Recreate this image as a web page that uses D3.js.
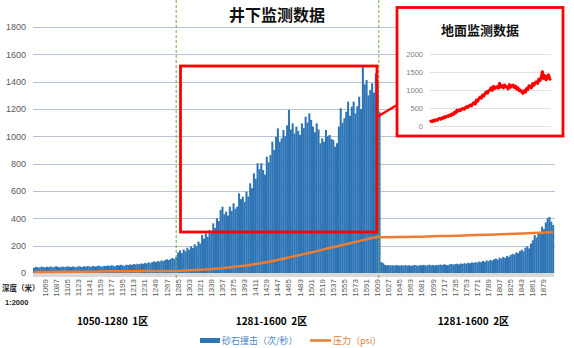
<!DOCTYPE html>
<html>
<head>
<meta charset="utf-8">
<script src="https://cdn.jsdelivr.net/npm/d3@7"></script>
<style>
  body { margin: 0; background: #fff; }
</style>
</head>
<body>
<div id="chart"></div>
<script>
// 井下 / 地面 monitoring data
const width = 574, height = 348;

const depthStart = 1051, depthStep = 3;

// sand impact count per depth sample (次/秒)
const impacts = [
  38,45,42,40,47,44,41,46,43,48,42,45,50,44,41,47,45,43,49,46,
  44,48,45,42,50,47,44,49,46,51,48,45,52,47,50,54,49,46,53,51,
  55,50,57,53,49,58,55,60,56,52,61,58,63,59,66,62,68,64,70,67,
  74,70,78,72,80,85,79,88,83,92,87,95,100,94,104,110,102,118,
  150,165,145,172,160,185,170,195,182,210,195,230,215,278,250,290,265,315,290,363,
  330,400,380,461,485,430,449,420,485,455,510,470,485,583,540,558,520,595,560,656,
  620,729,690,803,760,803,754,720,851,810,863,961,900,997,1058,960,985,1046,1000,1080,
  1193,1050,1095,1020,1071,1040,1010,1095,1060,1144,1100,1168,1120,1071,1030,1095,1050,949,985,960,
  1046,1000,1010,980,973,924,950,1071,1205,1100,1132,1180,1254,1150,1217,1254,1168,1220,1290,1200,
  1510,1380,1412,1300,1339,1388,1320,1461,1400,1180,
  80,72,
  60,56,58,55,57,54,58,56,53,57,
  55,58,54,57,52,56,59,55,53,58,56,60,55,57,61,56,59,54,60,58,
  62,58,64,60,57,63,66,61,65,68,63,70,66,72,68,75,71,78,73,80,
  76,84,79,88,82,92,86,96,90,100,
  105,98,112,106,118,110,125,118,132,140,
  135,150,145,160,170,158,185,195,180,215,
  240,278,260,300,290,339,320,370,400,410,376,351
];
const depths = impacts.map((d, i) => depthStart + i * depthStep);

// pressure (psi)
const pressureDepths = [1051,1081,1111,1141,1171,1201,1231,1261,1291,1321,1351,1381,1411,1441,1471,
  1501,1531,1561,1591,1612,1615,1621,1651,1681,1711,1741,1771,1801,1831,1861,1894];
const pressure = [8,8,9,10,12,12,14,15,17,23,33,47,66,90,120,
  150,183,214,246,266,262,262,264,266,270,273,278,282,287,293,298];

const tickDepths = [1069,1087,1105,1123,1141,1159,1177,1195,1213,1231,1249,1267,1285,1303,1321,1339,
  1357,1375,1393,1411,1429,1447,1465,1483,1501,1519,1537,1555,1573,1591,1609,1627,1645,1663,1681,
  1699,1717,1735,1753,1771,1789,1807,1825,1843,1861,1879];
const yTicks = [0,200,400,600,800,1000,1200,1400,1600,1800];

const zoneBreaks = [1282, 1611];
const zoneLabels = ["1050-1280  1区", "1281-1600  2区", "1281-1600  2区"];

// 地面 inset
const surface = [
  110,140,120,165,140,175,160,200,213,190,
  230,215,260,240,280,265,305,290,340,320,
  380,360,444,410,450,430,470,491,465,510,
  540,515,560,583,560,620,650,610,722,690,
  760,800,770,861,830,900,950,910,980,1000,
  1060,990,1100,1040,1080,1092,1050,1185,1080,1120,
  1060,1140,1090,1092,1030,1150,1080,1120,1139,1070,
  1110,1020,1060,980,1000,950,907,980,940,1040,
  1010,1120,1092,1060,1180,1130,1200,1230,1180,1300,
  1260,1350,1509,1320,1400,1280,1370,1420,1300,1324
];
const surfaceTicks = [0,500,1000,1500,2000];

const cjk = "'Noto Sans CJK SC', sans-serif";
const num = "'Liberation Sans', Arial, sans-serif";
const blue = "#2e75b6", orange = "#ed7d31";

const svg = d3.select("#chart")
  .append("svg")
  .attr("width", width)
  .attr("height", height);

const plot = {left: 33, right: 554, top: 27, bottom: 273};

let xScale = d3.scaleBand()
  .domain(depths)
  .range([plot.left, plot.right])
  .padding(0);

let xLin = d3.scaleLinear()
  .domain([depthStart - depthStep / 2, depths[depths.length - 1] + depthStep / 2])
  .range([plot.left, plot.right]);

let yScale = d3.scaleLinear()
  .domain([0, 1800])
  .range([plot.bottom, plot.top]);

// gridlines
svg.append("g")
  .selectAll("line")
  .data(yTicks.slice(1))
  .join("line")
  .attr("x1", plot.left)
  .attr("x2", plot.right + 1)
  .attr("y1", d => Math.round(yScale(d)) + 0.5)
  .attr("y2", d => Math.round(yScale(d)) + 0.5)
  .attr("stroke", "#b8c3d4")
  .attr("stroke-width", 1);

// y axis labels
svg.append("g")
  .attr("transform", `translate(29,0)`)
  .call(d3.axisLeft(yScale).tickValues(yTicks).tickFormat(d3.format("d")).tickSize(0).tickPadding(3))
  .call(g => g.select(".domain").remove())
  .selectAll("text")
  .attr("font-family", num)
  .attr("font-size", 9)
  .attr("fill", "#595959");

// axis strip
svg.append("rect")
  .attr("x", plot.left)
  .attr("y", plot.bottom)
  .attr("width", plot.right - plot.left)
  .attr("height", 4)
  .attr("fill", "#d9d9d9");

// bars
svg.append("g")
  .selectAll("rect")
  .data(impacts)
  .join("rect")
  .attr("x", (d, i) => xScale(depths[i]))
  .attr("width", xScale.bandwidth() + 0.2)
  .attr("y", d => yScale(d))
  .attr("height", d => yScale(0) - yScale(d))
  .attr("fill", blue);

// pressure line
const line = d3.line()
  .x((d, i) => xLin(pressureDepths[i]))
  .y(d => yScale(d))
  .curve(d3.curveMonotoneX);

svg.append("path")
  .datum(pressure)
  .attr("fill", "none")
  .attr("stroke", orange)
  .attr("stroke-width", 2.5)
  .attr("d", line);

// x axis
const xAxis = svg.append("g")
  .attr("transform", `translate(0,${plot.bottom + 5})`)
  .call(d3.axisBottom(xScale).tickValues(tickDepths).tickSize(0).tickPadding(0));
xAxis.select(".domain").remove();
xAxis.selectAll("text")
  .attr("transform", "rotate(-90)")
  .attr("text-anchor", "end")
  .attr("x", -1)
  .attr("y", 0)
  .attr("dy", "0.32em")
  .attr("font-family", num)
  .attr("font-size", 8)
  .attr("fill", "#595959");

// zone dashed lines
svg.append("g")
  .selectAll("line")
  .data(zoneBreaks)
  .join("line")
  .attr("x1", d => xLin(d))
  .attr("x2", d => xLin(d))
  .attr("y1", 0)
  .attr("y2", 279)
  .attr("stroke", "#70ad47")
  .attr("stroke-width", 1)
  .attr("stroke-dasharray", "3,2");

// zone labels
const zoneEdges = [plot.left, xLin(zoneBreaks[0]), xLin(zoneBreaks[1]), plot.right];
const zoneShift = [8, -6, 7];
svg.append("g")
  .selectAll("text")
  .data(zoneLabels)
  .join("text")
  .attr("x", (d, i) => (zoneEdges[i] + zoneEdges[i + 1]) / 2 + zoneShift[i])
  .attr("y", 325)
  .attr("text-anchor", "middle")
  .attr("font-family", cjk)
  .attr("font-weight", "bold")
  .attr("font-size", 10)
  .attr("fill", "#000")
  .style("white-space", "pre")
  .text(d => d);

svg.append("text")
  .attr("x", 2)
  .attr("y", 291)
  .attr("font-family", cjk)
  .attr("font-weight", "bold")
  .attr("font-size", 7.5)
  .attr("fill", "#222")
  .text("深度（米）");
svg.append("text")
  .attr("x", 5)
  .attr("y", 305)
  .attr("font-family", num)
  .attr("font-weight", "bold")
  .attr("font-size", 7.5)
  .attr("fill", "#222")
  .text("1:2000");

// title
svg.append("text")
  .attr("x", 277)
  .attr("y", 21)
  .attr("text-anchor", "middle")
  .attr("font-family", cjk)
  .attr("font-weight", "bold")
  .attr("font-size", 16)
  .attr("fill", "#111")
  .text("井下监测数据");

// highlight box
svg.append("rect")
  .attr("x", 180.5)
  .attr("y", 66)
  .attr("width", 196.5)
  .attr("height", 166)
  .attr("fill", "none")
  .attr("stroke", "#ff0000")
  .attr("stroke-width", 2.8);

svg.append("line")
  .attr("x1", 377).attr("y1", 117)
  .attr("x2", 397).attr("y2", 105)
  .attr("stroke", "#ff0000")
  .attr("stroke-width", 2.5);

// inset
svg.append("rect")
  .attr("x", 397)
  .attr("y", 7.5)
  .attr("width", 166)
  .attr("height", 128.5)
  .attr("fill", "#fff")
  .attr("stroke", "#ff0000")
  .attr("stroke-width", 2.8);

svg.append("text")
  .attr("x", 480)
  .attr("y", 35)
  .attr("text-anchor", "middle")
  .attr("font-family", cjk)
  .attr("font-weight", "bold")
  .attr("font-size", 13)
  .attr("fill", "#111")
  .text("地面监测数据");

let xi = d3.scaleLinear().domain([0, surface.length - 1]).range([430, 551]);
let yi = d3.scaleLinear().domain([0, 2000]).range([126, 54]);

svg.append("g")
  .selectAll("line")
  .data(surfaceTicks)
  .join("line")
  .attr("x1", 430)
  .attr("x2", 551)
  .attr("y1", d => Math.round(yi(d)) + 0.5)
  .attr("y2", d => Math.round(yi(d)) + 0.5)
  .attr("stroke", "#e0e0e0");

svg.append("g")
  .attr("transform", `translate(425,0)`)
  .call(d3.axisLeft(yi).tickValues(surfaceTicks).tickFormat(d3.format("d")).tickSize(0).tickPadding(2))
  .call(g => g.select(".domain").remove())
  .selectAll("text")
  .attr("font-family", num)
  .attr("font-size", 7.5)
  .attr("fill", "#7f7f7f");

svg.append("path")
  .datum(surface)
  .attr("fill", "none")
  .attr("stroke", "#ff0000")
  .attr("stroke-width", 3)
  .attr("stroke-linejoin", "round")
  .attr("d", d3.line().x((d, i) => xi(i)).y(d => yi(d)));

// legend
svg.append("rect")
  .attr("x", 200).attr("y", 338)
  .attr("width", 20).attr("height", 5)
  .attr("fill", blue);
svg.append("text")
  .attr("x", 222).attr("y", 344)
  .attr("font-family", cjk)
  .attr("font-size", 9)
  .attr("fill", "#4a84c4")
  .text("砂石撞击（次/秒）");
svg.append("line")
  .attr("x1", 310).attr("x2", 331)
  .attr("y1", 340.5).attr("y2", 340.5)
  .attr("stroke", orange)
  .attr("stroke-width", 2.5);
svg.append("text")
  .attr("x", 333).attr("y", 344)
  .attr("font-family", cjk)
  .attr("font-size", 9)
  .attr("fill", "#e07b3a")
  .text("压力（psi）");
</script>
</body>
</html>
